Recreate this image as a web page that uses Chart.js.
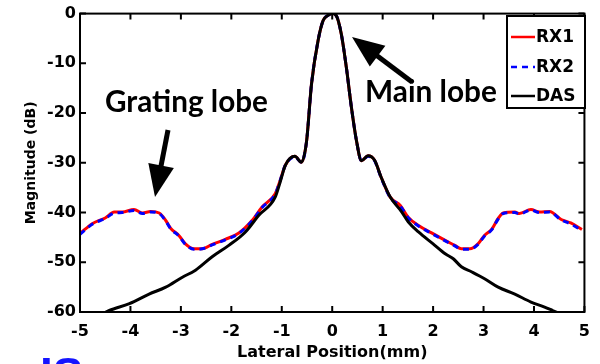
<!DOCTYPE html>
<html>
<head>
<meta charset="utf-8">
<script src="https://cdn.jsdelivr.net/npm/chart.js@4.4.1/dist/chart.umd.min.js"></script>
<style>
  html, body { margin: 0; padding: 0; background: #fff; }
  #wrap { width: 600px; height: 364px; position: relative; }
</style>
</head>
<body>
<div id="wrap"><canvas id="chart" width="600" height="364"></canvas></div>
<script>
// Series names
const seriesLabels = ['RX1', 'RX2', 'DAS'];

// Lateral positions (mm) for the RX beam profiles
const rxPositions = [-5, -4.75, -4.5, -4.32, -4.16, -3.93, -3.76, -3.6, -3.43, -3.3, -3.2, -3.04,
  -2.91, -2.74, -2.58, -2.38, -2.12, -1.85, -1.59, -1.39, -1.13, -1.03, -0.93, -0.74, -0.61,
  -0.51, -0.41, -0.28, -0.18, -0.09, 0, 0.08, 0.18, 0.28, 0.38, 0.48, 0.58, 0.71, 0.84, 0.97,
  1.15, 1.35, 1.51, 1.71, 1.97, 2.24, 2.43, 2.56, 2.73, 2.89, 3.02, 3.16, 3.29, 3.39, 3.62,
  3.71, 3.94, 4.11, 4.31, 4.54, 4.73, 4.95];

// Magnitude (dB)
const rx1Values = [-44.2, -42.2, -41.1, -39.9, -39.9, -39.4, -40.1, -39.8, -40.1, -41.6, -43.2, -44.6,
  -46.3, -47.3, -47.3, -46.4, -45.4, -44.1, -41.6, -38.9, -36.2, -33.5, -30.5, -28.7, -29.9,
  -25.8, -14.1, -5.4, -1.4, -0.4, 0, -0.4, -4.1, -10.8, -18.8, -25.5, -29.6, -28.6, -29.5, -32.9,
  -36.9, -38.6, -41.0, -42.6, -44.1, -45.6, -46.6, -47.3, -47.3, -46.3, -44.6, -43.4, -41.2, -40.1, -39.9,
  -40.2, -39.4, -39.9, -39.8, -41.4, -42.1, -43.4];

const rx2Values = [-44.4, -42.3, -41.2, -40.1, -40.0, -39.6, -40.2, -39.9, -40.2, -41.7, -43.3, -44.7,
  -46.4, -47.4, -47.3, -46.5, -45.5, -44.2, -41.7, -39.0, -36.3, -33.5, -30.5, -28.8, -29.9,
  -25.8, -14.1, -5.4, -1.4, -0.4, 0, -0.4, -4.1, -10.8, -18.8, -25.5, -29.6, -28.7, -29.6, -33.0,
  -37.0, -38.7, -41.1, -42.7, -44.2, -45.7, -46.7, -47.4, -47.4, -46.4, -44.7, -43.5, -41.3, -40.2, -40.0,
  -40.3, -39.5, -40.0, -39.9, -41.5, -42.3, -43.6];

// Lateral positions (mm) and magnitude (dB) for the DAS profile
const dasPositions = [-4.6, -4.42, -4.02, -3.63, -3.3, -2.97, -2.71, -2.38, -2.05, -1.72, -1.46, -1.13,
  -1.03, -0.93, -0.74, -0.61, -0.51, -0.41, -0.28, -0.18, -0.09, 0, 0.08, 0.18, 0.28, 0.38, 0.48,
  0.58, 0.71, 0.84, 0.97, 1.15, 1.38, 1.51, 1.71, 2.0, 2.24, 2.4, 2.56, 2.76, 3.02, 3.29, 3.62,
  3.94, 4.21, 4.37, 4.55];
const dasValues = [-60.6, -59.7, -58.3, -56.4, -55.0, -53.0, -51.6, -48.9, -46.6, -43.9, -40.6, -36.9,
  -33.8, -30.5, -28.7, -29.9, -25.8, -14.1, -5.4, -1.4, -0.4, 0, -0.4, -4.1, -10.8, -18.8, -25.5,
  -29.6, -28.6, -29.5, -32.9, -36.9, -39.9, -41.9, -43.9, -46.3, -48.3, -49.3, -50.9, -51.9, -53.3,
  -55.0, -56.4, -58.0, -59.0, -59.7, -60.5];

const colors = ['#ff0000', '#0000ff', '#000000'];

function toPoints(xs, ys) {
  return xs.map((x, i) => ({ x: x, y: ys[i] }));
}

// Draw a filled arrow from (x1,y1) to the tip (x2,y2)
function drawArrow(ctx, x1, y1, x2, y2) {
  const ang = Math.atan2(y2 - y1, x2 - x1);
  const headLen = 32, headHalf = 13;
  const bx = x2 - headLen * Math.cos(ang), by = y2 - headLen * Math.sin(ang);
  ctx.save();
  ctx.strokeStyle = '#000';
  ctx.fillStyle = '#000';
  ctx.lineWidth = 5;
  ctx.beginPath();
  ctx.moveTo(x1, y1);
  ctx.lineTo(bx + 4 * Math.cos(ang), by + 4 * Math.sin(ang));
  ctx.stroke();
  ctx.beginPath();
  ctx.moveTo(x2, y2);
  ctx.lineTo(bx + headHalf * Math.sin(ang), by - headHalf * Math.cos(ang));
  ctx.lineTo(bx - headHalf * Math.sin(ang), by + headHalf * Math.cos(ang));
  ctx.closePath();
  ctx.fill();
  ctx.restore();
}

// Text fitted to a given width
function fitText(ctx, text, x, y, width, family) {
  ctx.font = 'bold 20px ' + family;
  const size = 20 * width / ctx.measureText(text).width;
  ctx.font = 'bold ' + size.toFixed(1) + 'px ' + family;
  ctx.fillText(text, x, y);
}

const framePlugin = {
  id: 'frame',
  afterDatasetsDraw(chart) {
    const ctx = chart.ctx;
    const a = chart.chartArea;
    const xs = chart.scales.x, ys = chart.scales.y;
    const tl = 6;
    ctx.save();
    ctx.strokeStyle = '#000';
    ctx.lineWidth = 2;
    ctx.strokeRect(a.left, a.top, a.right - a.left, a.bottom - a.top);
    ctx.beginPath();
    xs.ticks.forEach(t => {
      const px = xs.getPixelForValue(t.value);
      ctx.moveTo(px, a.bottom); ctx.lineTo(px, a.bottom - tl);
      ctx.moveTo(px, a.top); ctx.lineTo(px, a.top + tl);
    });
    ys.ticks.forEach(t => {
      const py = ys.getPixelForValue(t.value);
      ctx.moveTo(a.left, py); ctx.lineTo(a.left + tl, py);
      ctx.moveTo(a.right, py); ctx.lineTo(a.right - tl, py);
    });
    ctx.stroke();

    // legend box
    const lx = 507, ly = 16, lw = 78, lh = 92;
    ctx.fillStyle = '#fff';
    ctx.fillRect(lx, ly, lw, lh);
    ctx.strokeRect(lx, ly, lw, lh);
    const rowY = [37, 67, 96];
    chart.data.datasets.forEach((ds, i) => {
      ctx.beginPath();
      ctx.strokeStyle = ds.borderColor;
      ctx.lineWidth = 2.5;
      ctx.setLineDash(ds.borderDash || []);
      ctx.moveTo(511, rowY[i]);
      ctx.lineTo(535, rowY[i]);
      ctx.stroke();
      ctx.setLineDash([]);
      ctx.fillStyle = '#000';
      ctx.font = 'bold 17px "DejaVu Sans"';
      ctx.textBaseline = 'middle';
      ctx.textAlign = 'left';
      ctx.fillText(ds.label, 536, rowY[i] + 1);
    });

    // annotations
    ctx.fillStyle = '#000';
    ctx.textBaseline = 'alphabetic';
    fitText(ctx, 'Grating lobe', 105, 112, 163, 'Lato');
    fitText(ctx, 'Main lobe', 365, 102, 132, 'Lato');
    drawArrow(ctx, 168, 130, 155, 197);
    drawArrow(ctx, 412, 82, 352, 37);

    // cut-off label at the bottom left
    ctx.fillStyle = '#1414ff';
    ctx.font = 'bold 46px "Liberation Sans"';
    ctx.fillText('IS', 40, 390);
    ctx.restore();
  }
};

new Chart(document.getElementById('chart'), {
  type: 'line',
  data: {
    datasets: [
      {
        label: seriesLabels[0],
        data: toPoints(rxPositions, rx1Values),
        borderColor: colors[0],
        borderWidth: 3,
        order: 3
      },
      {
        label: seriesLabels[1],
        data: toPoints(rxPositions, rx2Values),
        borderColor: colors[1],
        borderWidth: 3,
        borderDash: [6, 5],
        order: 2
      },
      {
        label: seriesLabels[2],
        data: toPoints(dasPositions, dasValues),
        borderColor: colors[2],
        borderWidth: 3,
        order: 1
      }
    ]
  },
  options: {
    responsive: false,
    animation: false,
    devicePixelRatio: 1,
    layout: { padding: { top: 13, right: 13, left: 0, bottom: 0 } },
    elements: {
      point: { radius: 0 },
      line: { cubicInterpolationMode: 'monotone', borderCapStyle: 'butt', borderJoinStyle: 'round' }
    },
    plugins: {
      legend: { display: false },
      tooltip: { enabled: false }
    },
    scales: {
      x: {
        type: 'linear',
        min: -5,
        max: 5,
        grid: { display: false, drawTicks: false },
        border: { display: false },
        ticks: {
          stepSize: 1,
          color: '#000',
          padding: 10,
          maxRotation: 0,
          font: { family: 'DejaVu Sans', size: 16, weight: 'bold' }
        },
        title: {
          display: true,
          text: 'Lateral Position(mm)',
          color: '#000',
          padding: 2,
          font: { family: 'DejaVu Sans', size: 16, weight: 'bold' }
        },
        afterFit(s) { s.height = 52; }
      },
      y: {
        min: -60,
        max: 0,
        grid: { display: false, drawTicks: false },
        border: { display: false },
        ticks: {
          stepSize: 10,
          color: '#000',
          padding: 4,
          font: { family: 'DejaVu Sans', size: 16, weight: 'bold' }
        },
        title: {
          display: true,
          text: 'Magnitude (dB)',
          color: '#000',
          padding: 23,
          font: { family: 'DejaVu Sans', size: 14, weight: 'bold' }
        },
        afterFit(s) { s.width = 80; }
      }
    }
  },
  plugins: [framePlugin]
});
</script>
</body>
</html>
